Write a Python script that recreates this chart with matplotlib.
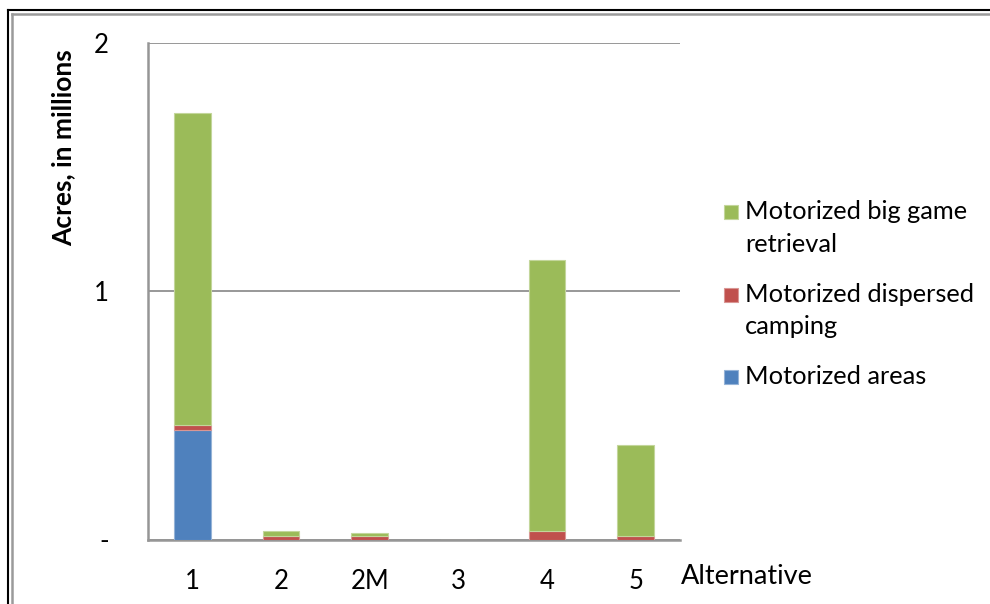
import matplotlib.pyplot as plt
from matplotlib.patches import Rectangle
from matplotlib.lines import Line2D

plt.rcParams["font.family"] = ["Lato", "DejaVu Sans"]

# acres per alternative, in millions
alternatives = ["1", "2", "2M", "3", "4", "5"]
motorized_areas = [0.443, 0, 0, 0, 0, 0]
dispersed_camping = [0.017, 0.013, 0.013, 0, 0.034, 0.013]
big_game_retrieval = [1.257, 0.020, 0.015, 0, 1.091, 0.367]

series = [
    ("Motorized areas", motorized_areas, "#4F81BD", "#95B3D7"),
    ("Motorized dispersed\ncamping", dispersed_camping, "#C0504D", "#D99694"),
    ("Motorized big game\nretrieval", big_game_retrieval, "#9BBB59", "#C3D69B"),
]

fig = plt.figure(figsize=(9.9, 6.04), dpi=100)
ax = fig.add_axes([148 / 990, 1 - 539.5 / 604, 532 / 990, 496.5 / 604])

x = range(len(alternatives))
bottom = [0.0] * len(alternatives)
for name, vals, fc, ec in series:
    ax.bar(x, vals, width=0.41, bottom=bottom, color=fc, edgecolor=ec,
           linewidth=0.8, zorder=3)
    bottom = [b + v for b, v in zip(bottom, vals)]

ax.set_xlim(-0.5, len(alternatives) - 0.5)
ax.set_ylim(0, 2)
ax.set_yticks([0, 1, 2])
ax.set_yticklabels(["-", "1", "2"])
ax.set_xticks(list(x))
ax.set_xticklabels(alternatives)
ax.tick_params(axis="both", length=0, labelsize=18.5, colors="#000000")
ax.tick_params(axis="y", pad=28)
ax.tick_params(axis="x", pad=21)
ax.yaxis.grid(True, color="#868686", linewidth=1.2, zorder=0)

for side in ["top", "right"]:
    ax.spines[side].set_visible(False)
for side in ["left", "bottom"]:
    ax.spines[side].set_color("#969696")
    ax.spines[side].set_linewidth(1.8)

ax.set_ylabel("Acres, in millions", fontsize=19, fontweight="bold")
ax.yaxis.set_label_coords(-0.137, 0.79)

fig.text(681 / 990, 1 - 577 / 604, "Alternative", fontsize=19.5,
         ha="left", va="center")

# legend, top entry first
legend_y = [212, 295, 377]
for (name, vals, fc, ec), ly in zip(reversed(series), legend_y):
    fig.patches.append(Rectangle((724 / 990, 1 - (ly + 7) / 604), 14 / 990, 14 / 604,
                                 transform=fig.transFigure, facecolor=fc,
                                 edgecolor=ec, linewidth=0.8))
    fig.text(745 / 990, 1 - (ly - 12) / 604, name, fontsize=18.3, ha="left",
             va="top", linespacing=1.5)

# double frame round the chart
fig.add_artist(Line2D([7.5 / 990, 7.5 / 990], [0, 1 - 9.5 / 604],
                      transform=fig.transFigure, color="black", lw=1.5))
fig.add_artist(Line2D([7.5 / 990, 1], [1 - 9.5 / 604, 1 - 9.5 / 604],
                      transform=fig.transFigure, color="black", lw=1.5))
fig.add_artist(Line2D([11.5 / 990, 11.5 / 990], [0, 1 - 13.5 / 604],
                      transform=fig.transFigure, color="#9a9a9a", lw=1.8))
fig.add_artist(Line2D([11.5 / 990, 1], [1 - 13.5 / 604, 1 - 13.5 / 604],
                      transform=fig.transFigure, color="#9a9a9a", lw=1.8))

fig.savefig("out.png", dpi=100)
